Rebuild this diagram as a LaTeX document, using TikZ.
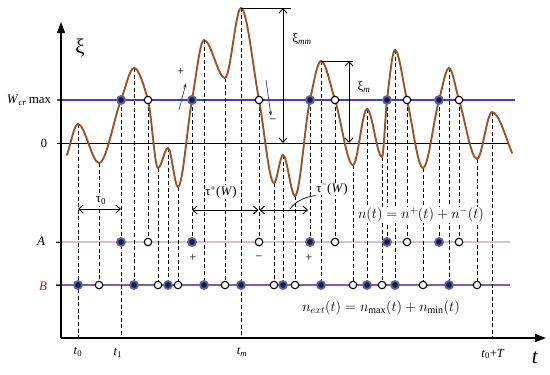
\documentclass[tikz,border=0pt]{standalone}
\usepackage{fontspec}
\setmainfont{Liberation Serif}
\usetikzlibrary{arrows.meta}
\definecolor{curvec}{RGB}{148,86,42}
\definecolor{wlinec}{RGB}{62,62,205}
\definecolor{alinec}{RGB}{214,194,200}
\definecolor{blinec}{RGB}{128,94,172}
\definecolor{dotc}{RGB}{28,28,72}
\definecolor{haloc}{RGB}{100,100,160}
\definecolor{blabc}{RGB}{200,25,55}
\begin{document}
\begin{tikzpicture}[x=1bp,y=-1bp,
  fdot/.style={circle,fill=dotc,draw=haloc,line width=1.8bp,inner sep=0pt,minimum size=8bp},
  odot/.style={circle,fill=white,draw=black,line width=1.1bp,inner sep=0pt,minimum size=7.5bp},
  vdash/.style={line width=0.9bp,dash pattern=on 4bp off 2.6bp},
  hline/.style={line width=1.7bp},
  axisline/.style={line width=1.3bp,-{Triangle[length=11bp,width=8bp]}},
  dimarrow/.style={line width=0.9bp,{Straight Barb[length=4.5bp,width=8bp]}-{Straight Barb[length=4.5bp,width=8bp]}},
  smallarrow/.style={line width=0.7bp,draw=black!75,-{Stealth[length=5bp,width=3.5bp]}},
  lbl/.style={inner sep=0.6bp,font=\fontsize{12.5}{14}\selectfont},
  wlbl/.style={inner sep=0.6bp,fill=white,font=\fontsize{13}{15}\selectfont},
  mlbl/.style={inner sep=1bp,fill=white,font=\fontsize{14.4}{16}\selectfont},
  biglbl/.style={inner sep=0pt,font=\fontsize{21}{24}\selectfont}
]
\useasboundingbox (0,0) rectangle (550,374);

% axes and horizontal lines
\coordinate (org) at (61,338);
\coordinate (ytip) at (61,22);
\coordinate (xtip) at (546,338);
\coordinate (wL) at (57,100); \coordinate (wR) at (515,100);
\coordinate (zL) at (57,143); \coordinate (zR) at (508,143);
\coordinate (aL) at (56,242); \coordinate (aR) at (510,242);
\coordinate (bL) at (56,285); \coordinate (bR) at (510,285);

\draw[hline,alinec] (aL) -- (aR);
\draw[hline,blinec] (bL) -- (bR);
\draw[line width=0.9bp] (aL) -- (61,242);
\draw[line width=0.9bp] (bL) -- (61,285);
\draw[line width=1bp] (zL) -- (zR);
\draw[hline,wlinec] (wL) -- (wR);
\draw[axisline] (org) -- (ytip);
\draw[axisline] (org) -- (xtip);

% curve points
\foreach \n/\x/\y in {1/78/124,2/99/163,3/134/68,4/158/168,5/168/148,6/178/187,
  7/204/40,8/225/78,9/241/8,10/274/183,11/283/155,12/295/196,13/321/61,
  14/353/165,15/367/109,16/382/157,17/395/50,18/423/168,19/449/68,20/477/159,21/492/112}
  {\coordinate (e\n) at (\x,\y); \coordinate (b\n) at (\x,285);}
\foreach \n/\x in {1/121,2/148,3/192,4/259,5/310,6/335,7/387,8/407,9/439,10/459}
  {\coordinate (w\n) at (\x,100); \coordinate (a\n) at (\x,242);}
\coordinate (f0) at (78,338);
\coordinate (f1) at (121,338);
\coordinate (fm) at (241,338);
\coordinate (fT) at (492,338);

% dashed verticals
\draw[vdash] (e1) -- (f0);
\draw[vdash] (w1) -- (f1);
\draw[vdash] (e9) -- (fm);
\draw[vdash] (e21) -- (fT);
\foreach \n in {2,3,4,5,6,7,8,10,11,12,13,14,15,16,17,18,19,20}
  {\draw[vdash] (e\n) -- (b\n);}
\foreach \n in {2,3,4,5,6,7,8,9,10}
  {\draw[vdash] (w\n) -- (a\n);}

% the signal
\draw[curvec,line width=1.9bp,line cap=round]
 (67,155) .. controls (70.67,144) and (74.33,124) .. (78,124)
 .. controls (85,124) and (92,163) .. (99,163)
 .. controls (106.33,163) and (113.67,119.29) .. (121,100)
 .. controls (125.33,88.6) and (129.67,68) .. (134,68)
 .. controls (138.67,68) and (143.33,83.58) .. (148,100)
 .. controls (151.33,111.73) and (154.67,168) .. (158,168)
 .. controls (161.33,168) and (164.67,148) .. (168,148)
 .. controls (171.33,148) and (174.67,187) .. (178,187)
 .. controls (182.67,187) and (187.33,125.79) .. (192,100)
 .. controls (196,77.9) and (200,40) .. (204,40)
 .. controls (211,40) and (218,78) .. (225,78)
 .. controls (230.33,78) and (235.67,8) .. (241,8)
 .. controls (247,8) and (253,68.08) .. (259,100)
 .. controls (264,126.6) and (269,183) .. (274,183)
 .. controls (277,183) and (280,155) .. (283,155)
 .. controls (287,155) and (291,196) .. (295,196)
 .. controls (300,196) and (305,122.49) .. (310,100)
 .. controls (313.67,83.51) and (317.33,61) .. (321,61)
 .. controls (325.67,61) and (330.33,85.4) .. (335,100)
 .. controls (341,118.77) and (347,165) .. (353,165)
 .. controls (357.67,165) and (362.33,109) .. (367,109)
 .. controls (372,109) and (377,157) .. (382,157)
 .. controls (383.67,157) and (385.33,113.76) .. (387,100)
 .. controls (389.67,77.98) and (392.33,50) .. (395,50)
 .. controls (399,50) and (403,83.18) .. (407,100)
 .. controls (412.33,122.43) and (417.67,168) .. (423,168)
 .. controls (428.33,168) and (433.67,119.26) .. (439,100)
 .. controls (442.33,87.96) and (445.67,68) .. (449,68)
 .. controls (452.33,68) and (455.67,89.22) .. (459,100)
 .. controls (465,119.41) and (471,159) .. (477,159)
 .. controls (482,159) and (487,112) .. (492,112)
 .. controls (498.67,112) and (505.33,136.33) .. (512,153);

% dots
\foreach \n in {1,3,5,7,9} {\node[fdot] (W\n) at (w\n) {}; \node[fdot] (A\n) at (a\n) {};}
\foreach \n in {2,4,6,8,10} {\node[odot] (W\n) at (w\n) {}; \node[odot] (A\n) at (a\n) {};}
\foreach \n in {1,3,5,7,9,11,13,15,17,19} {\node[fdot] (B\n) at (b\n) {};}
\foreach \n in {2,4,6,8,10,12,14,16,18,20} {\node[odot] (B\n) at (b\n) {};}

% amplitude markers
\coordinate (mmR) at (291,8);
\coordinate (mmT) at (283,8);
\coordinate (mmB) at (283,143);
\draw[line width=0.9bp] (e9) -- (mmR);
\draw[dimarrow] (mmT) -- (mmB);
\coordinate (mR) at (353,61);
\coordinate (mT) at (349,61);
\coordinate (mB) at (349,143);
\draw[line width=0.9bp] (e13) -- (mR);
\draw[dimarrow] (mT) -- (mB);
\node[lbl,font=\fontsize{13}{15}\selectfont] (ximm) at (302,39) {ξ\textsubscript{\textit{mm}}};
\node[lbl,font=\fontsize{13}{15}\selectfont] (xim) at (364,87) {ξ\textsubscript{\textit{m}}};

% crossing direction arrows
\coordinate (upS) at (179,110); \coordinate (upE) at (186,83);
\draw[smallarrow] (upS) -- (upE);
\node[lbl] (upplus) at (181,72) {+};
\coordinate (dnS) at (266,80); \coordinate (dnE) at (271,116);
\draw[smallarrow] (dnS) -- (dnE);
\node[lbl] (dnminus) at (273,121) {−};

% interval arrows
\coordinate (t0L) at (78,209); \coordinate (t0R) at (121,209);
\draw[dimarrow] (t0L) -- (t0R);
\coordinate (tpL) at (192,210); \coordinate (tpR) at (258.5,210);
\draw[dimarrow] (tpL) -- (tpR);
\coordinate (tmL) at (259.5,210); \coordinate (tmR) at (308,210);
\draw[dimarrow] (tmL) -- (tmR);
\node[wlbl] (tau0) at (101,201) {τ\textsubscript{0}};
\node[wlbl] (taup) at (221,192) {τ\textsuperscript{+}(\textit{W})};
\node[wlbl] (taum) at (332,189) {τ\textsuperscript{−}(\textit{W})};
\coordinate (lead) at (290,209);
\draw[line width=0.7bp] (lead) .. controls (296,200) and (309,196) .. (taum.south west);

% signs under A
\node[lbl] (sp1) at (193,258) {+};
\node[lbl] (sm1) at (259,258) {−};
\node[lbl] (sp2) at (309,258) {+};

% formulas
\node[mlbl] (nform) at (421,215) {$n(t)=n^{+}(t)+n^{-}(t)$};
\node[mlbl] (nextform) at (381,308) {$n_{ext}(t)=n_{\max}(t)+n_{\min}(t)$};

% axis labels
\node[biglbl] (xilab) at (80,48) {ξ};
\node[biglbl] (tlab) at (535,358) {\textit{t}};
\node[lbl,anchor=east,font=\fontsize{13}{15}\selectfont] (wlab) at (52,100) {\textit{W}\textsubscript{\textit{cr}}\,max};
\node[lbl] (zlab) at (44,143) {0};
\node[lbl,font=\fontsize{13}{15}\selectfont] (alab) at (41,241) {\textit{A}};
\node[lbl,font=\fontsize{13}{15}\selectfont,text=blabc] (blab) at (43,286) {\textit{B}};
\node[lbl] (t0lab) at (78,352) {\textit{t}\textsubscript{0}};
\node[lbl] (t1lab) at (118,353) {\textit{t}\textsubscript{1}};
\node[lbl] (tmlab) at (242,352) {\textit{t}\textsubscript{\textit{m}}};
\node[lbl] (tTlab) at (493,354) {\textit{t}\textsubscript{0}+\textit{T}};
\end{tikzpicture}
\end{document}
